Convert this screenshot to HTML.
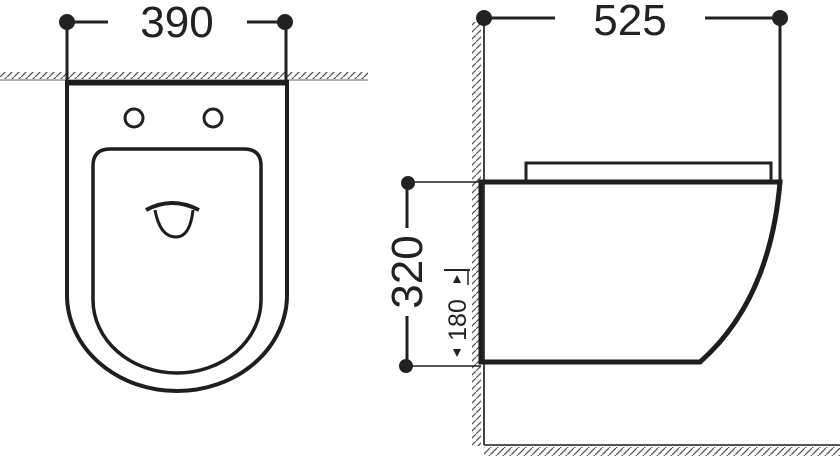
<!DOCTYPE html>
<html><head><style>
html,body{margin:0;padding:0;background:#fff;width:840px;height:465px;overflow:hidden}
svg{display:block}
text{font-family:"Liberation Sans",sans-serif;fill:#222}
</style></head><body>
<svg width="840" height="465" viewBox="0 0 840 465">
<defs>
<pattern id="h" width="7" height="7" patternUnits="userSpaceOnUse">
<line x1="0" y1="7" x2="7" y2="0" stroke="#555" stroke-width="1.3"/>
</pattern>
</defs>
<rect x="0" y="72" width="368" height="7" fill="url(#h)"/>
<line x1="0" y1="80" x2="368" y2="80" stroke="#666" stroke-width="1"/>
<line x1="67" y1="22" x2="108" y2="22" stroke="#222" stroke-width="3"/>
<line x1="247" y1="22" x2="285" y2="22" stroke="#222" stroke-width="3"/>
<circle cx="67" cy="22" r="8" fill="#222"/>
<circle cx="285" cy="22" r="8" fill="#222"/>
<text x="177" y="37" font-size="44" text-anchor="middle">390</text>
<line x1="67" y1="22" x2="67" y2="82" stroke="#222" stroke-width="3"/>
<line x1="286" y1="22" x2="286" y2="82" stroke="#222" stroke-width="3"/>
<path d="M67 82 L67 295 A110 96 0 0 0 287 295 L287 82 Z" fill="none" stroke="#1e1e1e" stroke-width="4"/>
<line x1="67" y1="83" x2="287" y2="83" stroke="#1e1e1e" stroke-width="5"/>
<circle cx="134" cy="118" r="9" fill="none" stroke="#222" stroke-width="3"/>
<circle cx="213" cy="118" r="9" fill="none" stroke="#222" stroke-width="3"/>
<path d="M93 300 L93 166 Q93 149 110 149 L244 149 Q261 149 261 166 L261 300 A84 73 0 0 1 93 300 Z" fill="none" stroke="#1e1e1e" stroke-width="3.5"/>
<path d="M146 210 Q172 196 199 210" fill="none" stroke="#1e1e1e" stroke-width="4"/>
<path d="M155 210 Q160 237 176 237 Q190 237 193 210" fill="none" stroke="#1e1e1e" stroke-width="3"/>
<rect x="472" y="22" width="9" height="424" fill="url(#h)"/>
<rect x="484" y="447" width="356" height="9" fill="url(#h)"/>
<line x1="484" y1="445" x2="840" y2="445" stroke="#555" stroke-width="2"/>
<line x1="484" y1="18" x2="484" y2="445" stroke="#444" stroke-width="2"/>
<line x1="484" y1="18" x2="555" y2="18" stroke="#222" stroke-width="3"/>
<line x1="705" y1="18" x2="780" y2="18" stroke="#222" stroke-width="3"/>
<circle cx="484" cy="18" r="8" fill="#222"/>
<circle cx="780" cy="18" r="8" fill="#222"/>
<text x="630" y="35" font-size="44" text-anchor="middle">525</text>
<line x1="780" y1="18" x2="780" y2="183" stroke="#222" stroke-width="3"/>
<rect x="526" y="163" width="245" height="19" fill="#fff" stroke="#222" stroke-width="3"/>
<path d="M481 182 L780 182 Q770 300 700 362 L481 362 Z" fill="none" stroke="#1e1e1e" stroke-width="5"/>
<line x1="408" y1="182" x2="481" y2="182" stroke="#222" stroke-width="1.5"/>
<line x1="406" y1="366" x2="481" y2="366" stroke="#222" stroke-width="1.5"/>
<line x1="407" y1="182" x2="407" y2="366" stroke="#222" stroke-width="3"/>
<circle cx="408" cy="183" r="7" fill="#222"/>
<circle cx="406" cy="366" r="7" fill="#222"/>
<rect x="390" y="228" width="34" height="88" fill="#fff"/>
<text transform="translate(422,272) rotate(-90)" font-size="44" text-anchor="middle">320</text>
<line x1="444" y1="270" x2="470" y2="270" stroke="#222" stroke-width="2"/>
<line x1="468" y1="270" x2="468" y2="285" stroke="#222" stroke-width="1.5"/>
<text transform="translate(466,320) rotate(-90)" font-size="25" text-anchor="middle">180</text>
<path d="M457 275 L461 283 L453 283 Z" fill="#222"/>
<path d="M457 357 L461 349 L453 349 Z" fill="#222"/>
</svg>
</body></html>
